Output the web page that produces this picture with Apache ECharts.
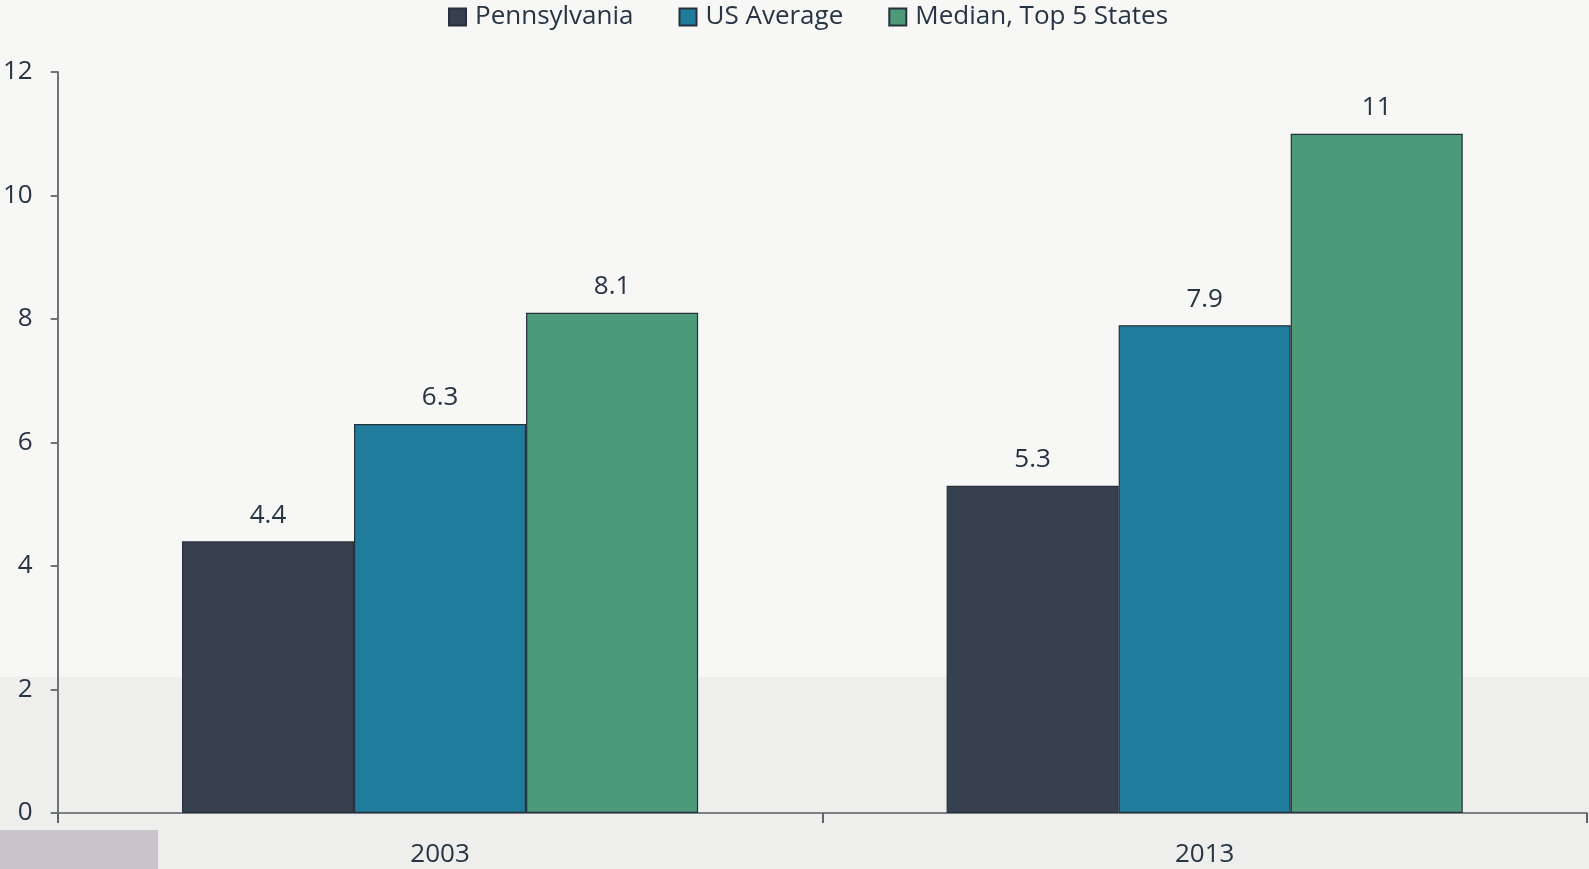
<!DOCTYPE html>
<html>
<head>
<meta charset="utf-8">
<script src="https://cdn.jsdelivr.net/npm/echarts@6/dist/echarts.min.js"></script>
<style>
  html, body { margin: 0; padding: 0; background: #f7f7f5; }
  #chart { width: 1589px; height: 869px; }
</style>
</head>
<body>
<div id="chart"></div>
<script>
const years = ['2003', '2013'];
const seriesNames = ['Pennsylvania', 'US Average', 'Median, Top 5 States'];
const pennsylvania = [4.4, 5.3];
const usAverage = [6.3, 7.9];
const medianTop5 = [8.1, 11];
const yTicks = [0, 2, 4, 6, 8, 10, 12];

const colors = ['#36404f', '#1f7c9b', '#4c9a7a'];
const textColor = '#263444';
const font = '"Open Sans", Lato, sans-serif';

const chart = echarts.init(document.getElementById('chart'));

function barSeries(name, data, color) {
  return {
    name: name,
    type: 'bar',
    data: data,
    barGap: '0%',
    barCategoryGap: '32.5%',
    itemStyle: { color: color, borderColor: '#27313d', borderWidth: 1.2 },
    label: {
      show: true,
      position: 'top',
      distance: 13,
      color: textColor,
      fontFamily: font,
      fontSize: 26
    }
  };
}

chart.setOption({
  backgroundColor: '#f7f7f5',
  animation: false,
  graphic: [
    {
      type: 'rect',
      z: -10,
      shape: { x: 0, y: 677, width: 1589, height: 192 },
      style: { fill: '#eeeeec' }
    },
    {
      type: 'rect',
      z: -5,
      shape: { x: 0, y: 830, width: 158, height: 39 },
      style: { fill: '#c9c4c9' }
    }
  ],
  legend: {
    top: -1,
    left: 443,
    itemWidth: 17,
    itemHeight: 17,
    itemGap: 45,
    icon: 'rect',
    textStyle: { color: textColor, fontFamily: font, fontSize: 26, padding: [0, 0, 0, 4] },
    data: seriesNames
  },
  grid: { left: 52, right: 2, top: 72, bottom: 56, containLabel: false },
  xAxis: {
    type: 'category',
    data: years,
    axisLine: { lineStyle: { color: '#7b7f86', width: 2 } },
    axisTick: { show: true, length: 10, lineStyle: { color: '#5e636b', width: 2 } },
    axisLabel: { color: textColor, fontFamily: font, fontSize: 26, margin: 29 }
  },
  yAxis: {
    type: 'value',
    min: 0,
    max: 12,
    interval: 2,
    axisLine: { show: true, lineStyle: { color: '#6e727a', width: 2 } },
    axisTick: { show: true, length: 7, lineStyle: { color: '#6e727a', width: 2 } },
    splitLine: { show: false },
    axisLabel: {
      color: textColor, fontFamily: font, fontSize: 26, margin: 25,
      formatter: function (v) { return yTicks.indexOf(v) >= 0 ? String(v) : ''; }
    }
  },
  series: [
    barSeries(seriesNames[0], pennsylvania, colors[0]),
    barSeries(seriesNames[1], usAverage, colors[1]),
    barSeries(seriesNames[2], medianTop5, colors[2])
  ]
});
</script>
</body>
</html>
